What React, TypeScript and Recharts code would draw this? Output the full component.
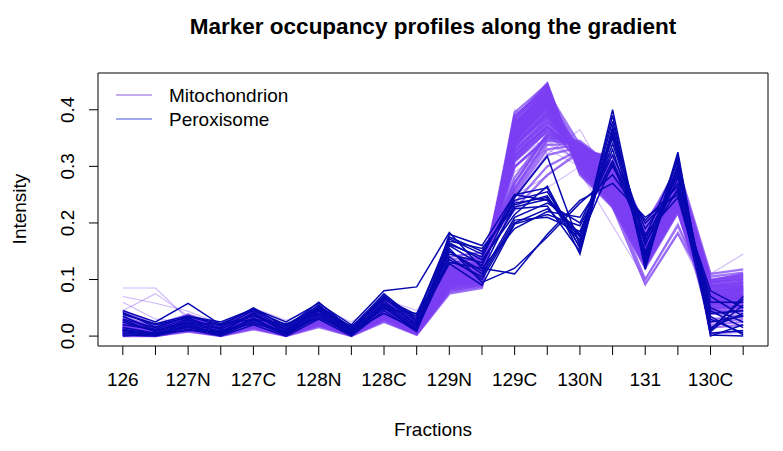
import React from 'react';
import { LineChart, Line, XAxis, YAxis } from 'recharts';

const FRACTIONS = [
  '126', '126.1', '127N', '127N.1', '127C', '127C.1', '128N', '128N.1', '128C', '128C.1',
  '129N', '129N.1', '129C', '129C.1', '130N', '130N.1', '131', '131.1', '130C', '130C.1',
];
const Y_TICKS = [0, 0.1, 0.2, 0.3, 0.4];
const TITLE = 'Marker occupancy profiles along the gradient';
const X_TITLE = 'Fractions';
const Y_TITLE = 'Intensity';
const CLASSES = ['Mitochondrion', 'Peroxisome'];

const MITO_MAIN: number[][] = [
  [0.012,0.003,0.022,0.006,0.028,0.004,0.033,0.005,0.045,0.010,0.105,0.112,0.345,0.405,0.318,0.262,0.148,0.246,0.062,0.068],
  [0.006,0.002,0.015,0.004,0.020,0.003,0.026,0.004,0.036,0.008,0.092,0.098,0.360,0.425,0.305,0.248,0.140,0.238,0.058,0.060],
  [0.018,0.008,0.026,0.012,0.032,0.008,0.038,0.009,0.050,0.015,0.112,0.120,0.318,0.372,0.328,0.280,0.160,0.262,0.075,0.082],
  [0.003,0.001,0.012,0.002,0.018,0.002,0.022,0.002,0.032,0.006,0.085,0.094,0.372,0.440,0.298,0.240,0.132,0.230,0.052,0.055],
  [0.022,0.010,0.030,0.014,0.036,0.010,0.042,0.011,0.055,0.018,0.118,0.126,0.280,0.358,0.335,0.290,0.168,0.272,0.085,0.090],
  [0.010,0.005,0.018,0.009,0.024,0.006,0.029,0.007,0.040,0.012,0.098,0.108,0.352,0.415,0.312,0.256,0.145,0.242,0.065,0.072],
  [0.015,0.006,0.024,0.010,0.030,0.007,0.035,0.008,0.048,0.014,0.108,0.116,0.335,0.392,0.322,0.272,0.155,0.255,0.070,0.078],
  [0.004,0.002,0.014,0.003,0.019,0.002,0.024,0.003,0.034,0.007,0.088,0.096,0.385,0.447,0.292,0.236,0.128,0.225,0.048,0.050],
  [0.028,0.012,0.034,0.016,0.040,0.012,0.046,0.013,0.060,0.022,0.125,0.132,0.260,0.345,0.340,0.298,0.175,0.280,0.092,0.098],
  [0.008,0.004,0.017,0.006,0.022,0.004,0.028,0.005,0.038,0.010,0.095,0.104,0.342,0.398,0.316,0.265,0.150,0.250,0.068,0.075],
  [0.020,0.009,0.028,0.011,0.034,0.009,0.040,0.010,0.052,0.016,0.115,0.124,0.325,0.380,0.325,0.276,0.158,0.258,0.080,0.085],
  [0.002,0.000,0.010,0.001,0.015,0.001,0.020,0.001,0.030,0.004,0.080,0.090,0.390,0.436,0.290,0.232,0.125,0.222,0.045,0.040],
  [0.013,0.006,0.021,0.008,0.027,0.005,0.032,0.006,0.044,0.011,0.102,0.110,0.300,0.350,0.345,0.300,0.172,0.285,0.095,0.100],
  [0.035,0.015,0.030,0.018,0.038,0.014,0.044,0.015,0.058,0.025,0.130,0.138,0.250,0.330,0.338,0.305,0.180,0.290,0.100,0.108],
  [0.009,0.003,0.019,0.005,0.026,0.004,0.031,0.005,0.042,0.009,0.100,0.106,0.365,0.430,0.302,0.245,0.138,0.235,0.060,0.058],
  [0.016,0.007,0.025,0.010,0.031,0.008,0.037,0.008,0.047,0.013,0.110,0.118,0.338,0.388,0.330,0.268,0.152,0.252,0.072,0.080],
  [0.005,0.002,0.013,0.003,0.020,0.003,0.025,0.003,0.035,0.008,0.090,0.100,0.378,0.420,0.300,0.242,0.135,0.232,0.055,0.062],
  [0.024,0.011,0.032,0.013,0.037,0.011,0.043,0.012,0.056,0.019,0.120,0.128,0.310,0.365,0.332,0.286,0.165,0.268,0.088,0.092],
  [0.011,0.005,0.020,0.007,0.025,0.005,0.030,0.006,0.041,0.011,0.097,0.105,0.348,0.410,0.310,0.258,0.146,0.244,0.066,0.070],
  [0.007,0.003,0.016,0.005,0.021,0.003,0.027,0.004,0.037,0.009,0.093,0.101,0.355,0.402,0.320,0.262,0.142,0.248,0.063,0.066],
  [0.030,0.014,0.036,0.017,0.042,0.013,0.048,0.014,0.062,0.028,0.135,0.142,0.235,0.300,0.330,0.315,0.190,0.295,0.105,0.112],
  [0.000,0.000,0.008,0.000,0.012,0.000,0.016,0.000,0.025,0.002,0.075,0.085,0.395,0.445,0.285,0.228,0.120,0.218,0.040,0.035],
  [0.045,0.020,0.038,0.020,0.045,0.015,0.050,0.016,0.065,0.030,0.140,0.148,0.225,0.285,0.325,0.320,0.195,0.300,0.110,0.118],
  [0.012,0.004,0.022,0.007,0.028,0.006,0.034,0.007,0.046,0.012,0.104,0.114,0.330,0.385,0.326,0.270,0.156,0.256,0.074,0.076],
  [0.017,0.008,0.027,0.009,0.033,0.007,0.039,0.009,0.049,0.014,0.113,0.122,0.320,0.376,0.334,0.282,0.162,0.264,0.078,0.084],
  [0.003,0.001,0.011,0.002,0.017,0.001,0.021,0.002,0.031,0.005,0.083,0.092,0.375,0.438,0.296,0.238,0.130,0.228,0.050,0.048],
  [0.026,0.012,0.033,0.015,0.039,0.011,0.045,0.012,0.058,0.020,0.122,0.130,0.298,0.352,0.338,0.294,0.170,0.276,0.090,0.095],
  [0.010,0.004,0.018,0.006,0.023,0.004,0.029,0.005,0.039,0.010,0.096,0.103,0.358,0.418,0.308,0.252,0.143,0.240,0.062,0.064],
  [0.014,0.006,0.023,0.009,0.029,0.006,0.034,0.007,0.045,0.012,0.106,0.115,0.340,0.395,0.318,0.266,0.153,0.253,0.070,0.074],
  [0.006,0.002,0.014,0.004,0.021,0.003,0.026,0.003,0.036,0.008,0.091,0.099,0.368,0.428,0.304,0.246,0.137,0.234,0.057,0.059],
  [0.019,0.009,0.027,0.012,0.033,0.010,0.039,0.009,0.051,0.017,0.110,0.125,0.315,0.368,0.328,0.288,0.170,0.275,0.082,0.090],
  [0.001,0.001,0.009,0.001,0.014,0.001,0.018,0.001,0.027,0.003,0.078,0.088,0.382,0.442,0.288,0.230,0.122,0.220,0.042,0.045],
  [0.025,0.013,0.031,0.014,0.036,0.012,0.041,0.013,0.054,0.021,0.118,0.135,0.272,0.355,0.336,0.296,0.178,0.282,0.094,0.104],
  [0.011,0.004,0.020,0.006,0.026,0.005,0.031,0.006,0.043,0.010,0.099,0.109,0.350,0.408,0.313,0.260,0.147,0.245,0.064,0.069],
  [0.007,0.002,0.015,0.004,0.022,0.003,0.027,0.004,0.037,0.007,0.094,0.102,0.362,0.422,0.306,0.250,0.141,0.239,0.059,0.063],
  [0.032,0.016,0.035,0.017,0.041,0.013,0.047,0.014,0.061,0.026,0.128,0.140,0.245,0.320,0.334,0.308,0.185,0.292,0.098,0.110],
  [0.014,0.007,0.023,0.010,0.028,0.007,0.035,0.007,0.046,0.013,0.107,0.117,0.336,0.390,0.324,0.270,0.155,0.256,0.073,0.077],
  [0.004,0.001,0.013,0.002,0.018,0.002,0.023,0.002,0.033,0.006,0.086,0.095,0.370,0.432,0.300,0.244,0.134,0.231,0.054,0.052],
  [0.021,0.010,0.029,0.013,0.035,0.009,0.041,0.011,0.053,0.018,0.116,0.127,0.312,0.362,0.331,0.284,0.164,0.270,0.086,0.088],
  [0.009,0.003,0.018,0.005,0.024,0.004,0.030,0.005,0.041,0.009,0.098,0.107,0.346,0.412,0.314,0.258,0.149,0.247,0.067,0.071],
  [0.010,0.004,0.020,0.007,0.027,0.005,0.034,0.006,0.045,0.012,0.105,0.118,0.362,0.425,0.330,0.285,0.168,0.270,0.015,0.020],
  [0.005,0.002,0.016,0.004,0.023,0.003,0.029,0.004,0.040,0.009,0.097,0.108,0.375,0.432,0.338,0.295,0.175,0.282,0.005,0.008],
  [0.016,0.006,0.024,0.009,0.030,0.006,0.036,0.008,0.048,0.014,0.110,0.120,0.345,0.405,0.332,0.280,0.160,0.265,0.025,0.030],
  [0.012,0.005,0.021,0.008,0.026,0.006,0.032,0.006,0.043,0.011,0.100,0.110,0.352,0.418,0.318,0.240,0.100,0.195,0.068,0.072],
  [0.018,0.007,0.025,0.010,0.030,0.007,0.036,0.008,0.047,0.013,0.106,0.114,0.360,0.410,0.315,0.230,0.092,0.182,0.075,0.080],
  [0.008,0.003,0.017,0.005,0.023,0.004,0.028,0.004,0.039,0.009,0.094,0.103,0.320,0.370,0.310,0.298,0.200,0.288,0.080,0.082],
  [0.013,0.005,0.023,0.008,0.029,0.006,0.034,0.006,0.044,0.011,0.103,0.111,0.356,0.421,0.309,0.254,0.144,0.243,0.064,0.067],
  [0.006,0.003,0.016,0.004,0.021,0.003,0.026,0.003,0.035,0.007,0.090,0.098,0.380,0.444,0.296,0.238,0.130,0.226,0.050,0.052],
  [0.019,0.008,0.027,0.011,0.034,0.008,0.039,0.010,0.052,0.016,0.114,0.122,0.328,0.384,0.322,0.274,0.158,0.260,0.077,0.083],
  [0.024,0.011,0.031,0.014,0.038,0.011,0.044,0.012,0.057,0.020,0.121,0.129,0.308,0.362,0.334,0.290,0.168,0.274,0.088,0.094],
  [0.009,0.004,0.018,0.006,0.024,0.004,0.029,0.005,0.040,0.010,0.097,0.105,0.366,0.433,0.302,0.246,0.138,0.236,0.058,0.061],
  [0.015,0.006,0.024,0.009,0.030,0.007,0.036,0.008,0.047,0.013,0.108,0.116,0.344,0.402,0.316,0.264,0.150,0.250,0.069,0.073],
  [0.030,0.014,0.034,0.016,0.040,0.012,0.046,0.014,0.060,0.024,0.128,0.136,0.255,0.338,0.340,0.302,0.178,0.284,0.096,0.102],
  [0.002,0.001,0.011,0.001,0.016,0.001,0.020,0.001,0.029,0.004,0.082,0.091,0.388,0.440,0.292,0.234,0.126,0.224,0.046,0.044],
  [0.011,0.005,0.020,0.007,0.026,0.005,0.031,0.006,0.042,0.011,0.101,0.109,0.334,0.396,0.320,0.268,0.152,0.254,0.071,0.074],
  [0.020,0.009,0.028,0.012,0.035,0.009,0.040,0.010,0.053,0.017,0.117,0.126,0.316,0.370,0.330,0.282,0.163,0.267,0.083,0.087],
  [0.007,0.003,0.015,0.005,0.022,0.004,0.027,0.004,0.038,0.008,0.093,0.102,0.372,0.430,0.304,0.240,0.134,0.232,0.056,0.058],
  [0.016,0.007,0.025,0.010,0.031,0.007,0.037,0.008,0.049,0.014,0.111,0.119,0.326,0.378,0.336,0.278,0.158,0.262,0.076,0.081],
  [0.012,0.005,0.021,0.008,0.027,0.005,0.032,0.006,0.043,0.011,0.102,0.110,0.350,0.412,0.328,0.272,0.156,0.258,0.040,0.045],
  [0.008,0.003,0.017,0.005,0.023,0.004,0.028,0.004,0.039,0.009,0.096,0.104,0.358,0.426,0.322,0.268,0.160,0.262,0.030,0.035],
  [0.022,0.010,0.030,0.013,0.036,0.010,0.042,0.011,0.055,0.018,0.119,0.127,0.270,0.356,0.342,0.298,0.174,0.280,0.060,0.050],
  [0.004,0.002,0.013,0.003,0.019,0.002,0.023,0.003,0.033,0.006,0.087,0.096,0.376,0.436,0.300,0.244,0.136,0.232,0.020,0.025],
  [0.014,0.006,0.023,0.009,0.029,0.006,0.034,0.007,0.045,0.012,0.106,0.115,0.338,0.394,0.318,0.262,0.148,0.248,0.098,0.106],
  [0.010,0.004,0.019,0.006,0.025,0.005,0.030,0.005,0.041,0.010,0.099,0.107,0.354,0.416,0.312,0.256,0.146,0.244,0.088,0.096],
  [0.026,0.012,0.032,0.015,0.038,0.011,0.044,0.012,0.058,0.021,0.123,0.131,0.262,0.348,0.336,0.292,0.172,0.278,0.070,0.065],
  [0.005,0.002,0.014,0.004,0.020,0.003,0.025,0.003,0.035,0.008,0.089,0.098,0.366,0.430,0.308,0.250,0.140,0.238,0.078,0.086],
];

const MITO_OUTLIERS: number[][] = [
  [0.085,0.085,0.030,0.015,0.030,0.010,0.035,0.010,0.045,0.020,0.090,0.105,0.290,0.330,0.300,0.268,0.148,0.240,0.090,0.100],
  [0.070,0.058,0.044,0.022,0.038,0.012,0.040,0.012,0.050,0.022,0.095,0.110,0.300,0.345,0.310,0.275,0.150,0.248,0.085,0.095],
  [0.045,0.075,0.035,0.012,0.032,0.008,0.038,0.010,0.048,0.018,0.100,0.112,0.310,0.352,0.320,0.280,0.152,0.252,0.080,0.088],
  [0.060,0.030,0.025,0.010,0.028,0.007,0.033,0.008,0.044,0.015,0.098,0.108,0.325,0.370,0.315,0.272,0.150,0.250,0.078,0.085],
  [0.010,0.004,0.020,0.008,0.026,0.006,0.032,0.006,0.044,0.012,0.100,0.110,0.400,0.360,0.300,0.250,0.140,0.240,0.060,0.065],
  [0.012,0.005,0.022,0.009,0.028,0.006,0.034,0.007,0.046,0.013,0.104,0.112,0.388,0.322,0.365,0.262,0.150,0.248,0.070,0.072],
  [0.020,0.010,0.028,0.014,0.035,0.010,0.042,0.011,0.055,0.020,0.118,0.125,0.250,0.282,0.332,0.302,0.180,0.285,0.095,0.100],
  [0.025,0.012,0.032,0.016,0.040,0.012,0.046,0.013,0.060,0.025,0.125,0.130,0.222,0.262,0.300,0.330,0.188,0.295,0.100,0.105],
  [0.015,0.007,0.024,0.010,0.030,0.008,0.036,0.009,0.048,0.015,0.108,0.118,0.318,0.370,0.325,0.278,0.160,0.262,0.110,0.145],
  [0.010,0.004,0.020,0.006,0.025,0.005,0.030,0.006,0.040,0.010,0.100,0.108,0.360,0.420,0.300,0.225,0.090,0.180,0.060,0.062],
  [0.012,0.006,0.022,0.008,0.027,0.006,0.033,0.007,0.045,0.012,0.102,0.112,0.345,0.400,0.290,0.195,0.100,0.200,0.065,0.070],
  [0.018,0.008,0.026,0.020,0.050,0.028,0.050,0.025,0.065,0.045,0.140,0.148,0.300,0.340,0.310,0.270,0.150,0.250,0.075,0.080],
  [0.028,0.010,0.040,0.005,0.048,0.004,0.052,0.003,0.062,0.006,0.110,0.115,0.330,0.380,0.300,0.260,0.140,0.238,0.050,0.055],
];

const PEROX: number[][] = [
  [0.040,0.020,0.032,0.012,0.040,0.010,0.050,0.012,0.065,0.035,0.175,0.150,0.235,0.245,0.180,0.340,0.170,0.285,0.025,0.035],
  [0.005,0.002,0.020,0.004,0.030,0.003,0.040,0.004,0.055,0.015,0.160,0.125,0.245,0.318,0.160,0.400,0.130,0.325,0.005,0.010],
  [0.025,0.008,0.028,0.015,0.045,0.012,0.055,0.008,0.070,0.025,0.165,0.135,0.215,0.265,0.155,0.370,0.140,0.300,0.040,0.045],
  [0.035,0.010,0.025,0.020,0.035,0.018,0.050,0.015,0.075,0.028,0.150,0.110,0.210,0.235,0.200,0.320,0.190,0.270,0.060,0.060],
  [0.010,0.005,0.015,0.002,0.025,0.002,0.035,0.002,0.050,0.010,0.140,0.100,0.200,0.225,0.170,0.305,0.165,0.260,0.010,0.070],
  [0.045,0.025,0.058,0.020,0.030,0.022,0.040,0.018,0.048,0.040,0.130,0.120,0.190,0.220,0.210,0.300,0.200,0.255,0.070,0.035],
  [0.002,0.000,0.012,0.000,0.020,0.000,0.030,0.000,0.045,0.008,0.180,0.160,0.250,0.240,0.175,0.355,0.175,0.310,0.000,0.020],
  [0.030,0.015,0.035,0.025,0.048,0.025,0.058,0.020,0.080,0.087,0.183,0.120,0.110,0.180,0.240,0.270,0.210,0.250,0.080,0.050],
  [0.015,0.005,0.022,0.008,0.038,0.006,0.048,0.006,0.062,0.018,0.155,0.095,0.120,0.175,0.235,0.285,0.205,0.265,0.030,0.005],
  [0.020,0.012,0.030,0.005,0.042,0.005,0.052,0.010,0.068,0.020,0.145,0.130,0.225,0.230,0.150,0.360,0.125,0.305,0.015,0.040],
  [0.000,0.004,0.010,0.010,0.022,0.008,0.032,0.008,0.040,0.012,0.135,0.105,0.205,0.210,0.185,0.330,0.150,0.280,0.050,0.025],
  [0.038,0.022,0.036,0.018,0.050,0.015,0.060,0.012,0.072,0.032,0.172,0.145,0.240,0.255,0.165,0.380,0.135,0.315,0.002,0.000],
  [0.012,0.003,0.018,0.003,0.028,0.004,0.038,0.003,0.052,0.012,0.150,0.115,0.232,0.248,0.158,0.390,0.118,0.320,0.012,0.065],
  [0.028,0.008,0.024,0.012,0.040,0.010,0.046,0.010,0.058,0.022,0.128,0.090,0.198,0.215,0.195,0.310,0.180,0.245,0.045,0.015],
  [0.008,0.002,0.016,0.006,0.032,0.004,0.044,0.005,0.056,0.016,0.162,0.140,0.250,0.262,0.145,0.365,0.160,0.295,0.008,0.055],
  [0.042,0.016,0.034,0.022,0.046,0.020,0.054,0.016,0.066,0.038,0.168,0.155,0.228,0.242,0.178,0.350,0.145,0.290,0.035,0.002],
];

const MITO_COLOR = '#7B3FF2';
const PEROX_COLOR = '#0808B0';
const FONT = '"Liberation Sans", Arial, Helvetica, sans-serif';

const data = FRACTIONS.map((f, i) => {
  const row: Record<string, number | string> = { idx: i, fraction: f };
  MITO_OUTLIERS.forEach((p, j) => { row['o' + j] = p[i]; });
  MITO_MAIN.forEach((p, j) => { row['m' + j] = p[i]; });
  PEROX.forEach((p, j) => { row['p' + j] = p[i]; });
  return row;
});

const XTick = (props: any) => {
  const { x, y, payload } = props;
  const i = payload.value as number;
  if (i % 2 !== 0) return <g />;
  return (
    <text x={x} y={y} dy={29} textAnchor="middle" fontSize={19} fontFamily={FONT} fill="#000">
      {FRACTIONS[i]}
    </text>
  );
};

const YTick = (props: any) => {
  const { x, y, payload } = props;
  return (
    <text
      transform={`translate(${x - 13},${y}) rotate(-90)`}
      textAnchor="middle"
      fontSize={19}
      fontFamily={FONT}
      fill="#000"
    >
      {(payload.value as number).toFixed(1)}
    </text>
  );
};

export default function App() {
  return (
    <div style={{ position: 'absolute', left: 0, top: 0, width: 783, height: 451, background: '#fff', fontFamily: FONT }}>
      <LineChart
        width={783}
        height={451}
        data={data}
        margin={{ top: 72, right: 14, bottom: 0, left: 0 }}
      >
        <XAxis
          dataKey="idx"
          type="number"
          domain={[-0.76, 19.76]}
          ticks={FRACTIONS.map((_, i) => i)}
          interval={0}
          allowDataOverflow
          height={105}
          tickSize={9}
          tickLine={{ stroke: '#000' }}
          axisLine={{ stroke: '#000' }}
          tick={<XTick />}
        />
        <XAxis
          xAxisId="top"
          dataKey="idx"
          type="number"
          orientation="top"
          domain={[-0.76, 19.76]}
          height={1}
          tick={false}
          tickLine={false}
          axisLine={{ stroke: '#000' }}
        />
        <YAxis
          type="number"
          domain={[-0.0175, 0.465]}
          ticks={Y_TICKS}
          interval={0}
          allowDataOverflow
          width={98}
          tickSize={9}
          tickLine={{ stroke: '#000' }}
          axisLine={{ stroke: '#000' }}
          tick={<YTick />}
        />
        <YAxis
          yAxisId="right"
          orientation="right"
          type="number"
          domain={[-0.0175, 0.465]}
          width={1}
          tick={false}
          tickLine={false}
          axisLine={{ stroke: '#000' }}
        />
        {MITO_OUTLIERS.map((_, j) => (
          <Line
            key={'o' + j}
            dataKey={'o' + j}
            stroke={MITO_COLOR}
            strokeOpacity={0.38}
            strokeWidth={1.1}
            dot={false}
            activeDot={false}
            isAnimationActive={false}
            legendType="none"
          />
        ))}
        {MITO_MAIN.map((_, j) => (
          <Line
            key={'m' + j}
            dataKey={'m' + j}
            stroke={MITO_COLOR}
            strokeOpacity={0.72}
            strokeWidth={2.3}
            dot={false}
            activeDot={false}
            isAnimationActive={false}
            legendType="none"
          />
        ))}
        {PEROX.map((_, j) => (
          <Line
            key={'p' + j}
            dataKey={'p' + j}
            stroke={PEROX_COLOR}
            strokeWidth={1.5}
            dot={false}
            activeDot={false}
            isAnimationActive={false}
            legendType="none"
          />
        ))}
      </LineChart>
      <svg width={200} height={50} style={{ position: 'absolute', left: 110, top: 82 }}>
        <line x1={6} x2={42} y1={13} y2={13} stroke="#8A5AE0" strokeWidth={1.2} />
        <text x={59} y={13} dy={6.5} fontSize={19} fontFamily={FONT} fill="#000">{CLASSES[0]}</text>
        <line x1={6} x2={42} y1={37} y2={37} stroke="#4A55D8" strokeWidth={1.2} />
        <text x={59} y={37} dy={6.5} fontSize={19} fontFamily={FONT} fill="#000">{CLASSES[1]}</text>
      </svg>
      <div style={{ position: 'absolute', left: 98, width: 670, top: 12, textAlign: 'center', fontSize: 22.5, fontWeight: 'bold', lineHeight: '30px', color: '#000' }}>
        {TITLE}
      </div>
      <div style={{ position: 'absolute', left: 98, width: 670, top: 417, textAlign: 'center', fontSize: 19, lineHeight: '26px', color: '#000' }}>
        {X_TITLE}
      </div>
      <div style={{ position: 'absolute', left: 20, top: 209, width: 0, height: 0 }}>
        <div style={{ position: 'absolute', left: -60, top: -13, width: 120, textAlign: 'center', fontSize: 19, lineHeight: '26px', transform: 'rotate(-90deg)', color: '#000' }}>
          {Y_TITLE}
        </div>
      </div>
    </div>
  );
}
